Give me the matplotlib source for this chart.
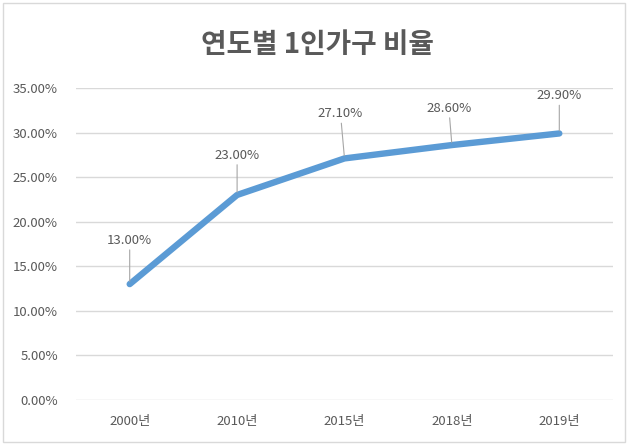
import matplotlib.pyplot as plt
from matplotlib.patches import Rectangle

plt.rcParams['font.family'] = ['Noto Sans CJK KR', 'DejaVu Sans']

years = ['2000년', '2010년', '2015년', '2018년', '2019년']
ratio = [13.0, 23.0, 27.1, 28.6, 29.9]

# label offsets in pixels (dx, dy) from each point to label bottom
label_offsets = [(0, 37), (0, 33), (-4, 38), (-3, 30), (0, 31)]

fig = plt.figure(figsize=(6.29, 4.45), dpi=100)
ax = fig.add_axes([76 / 629, 1 - 400 / 445, (613 - 76) / 629, (400 - 88) / 445])

x = range(len(years))
ax.plot(x, ratio, color='#5B9BD5', linewidth=4.6, solid_capstyle='round',
        solid_joinstyle='round', zorder=3)

for i, v in enumerate(ratio):
    dx, dy = label_offsets[i]
    ax.annotate(f'{v:.2f}%', xy=(i, v), xytext=(dx * 0.72, dy * 0.72),
                textcoords='offset points', ha='center', va='bottom',
                fontsize=9.5, color='#595959',
                arrowprops=dict(arrowstyle='-', color='#A6A6A6', lw=0.8,
                                shrinkA=0, shrinkB=2))

ax.set_xlim(-0.5, len(years) - 0.5)
ax.set_ylim(0, 35)
ax.set_yticks([0, 5, 10, 15, 20, 25, 30, 35])
ax.set_yticklabels([f'{t:.2f}%' for t in ax.get_yticks()])
ax.set_xticks(list(x))
ax.set_xticklabels(years)
ax.tick_params(length=0, colors='#595959', labelsize=9.5)
ax.tick_params(axis='x', pad=11)
ax.tick_params(axis='y', pad=13)
ax.grid(axis='y', color='#D9D9D9', linewidth=1)
ax.set_axisbelow(True)
for s in ax.spines.values():
    s.set_visible(False)

fig.text(317 / 629, 1 - 45 / 445, '연도별 1인가구 비율', ha='center', va='center',
         fontsize=20, fontweight='bold', color='#595959')

fig.patches.append(Rectangle((3 / 629, 3 / 445), 622 / 629, 439 / 445,
                             transform=fig.transFigure, fill=False,
                             edgecolor='#D9D9D9', linewidth=1))

fig.savefig('out.png', dpi=100)
